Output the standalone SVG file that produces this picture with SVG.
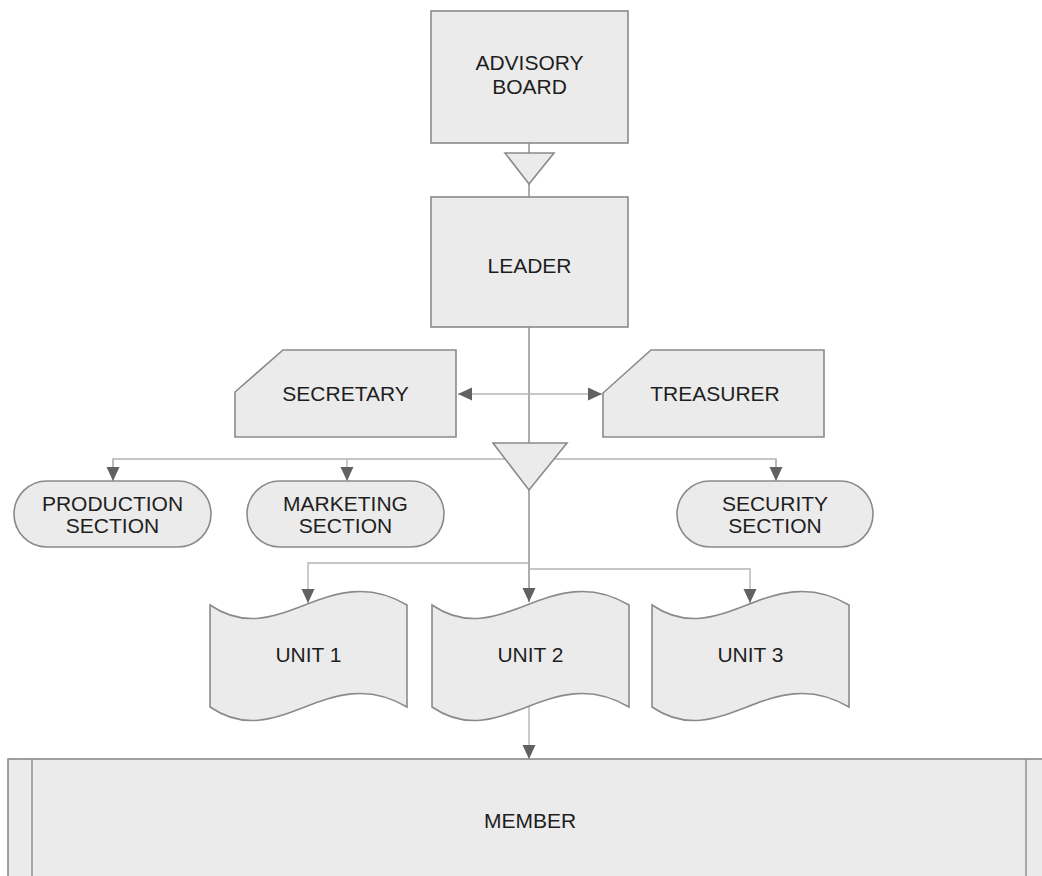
<svg xmlns="http://www.w3.org/2000/svg" width="1042" height="876" viewBox="0 0 1042 876">
<defs>
<style>
.n{fill:#ebebeb;stroke:#8a8a8a;stroke-width:1.6}
.t{font-family:"Liberation Sans",Arial,sans-serif;font-size:21px;fill:#1e1e1e;text-anchor:middle}
.c{fill:none;stroke:#8a8a8a;stroke-width:1.4}
.h{fill:none;stroke:#b4b4b4;stroke-width:1.4}
</style>
<marker id="ah" viewBox="0 0 14 14" refX="14" refY="7" markerWidth="14" markerHeight="14" markerUnits="userSpaceOnUse" orient="auto-start-reverse">
<path d="M0,0.5 L14,7 L0,13.5 Z" fill="#616161"/>
</marker>
</defs>
<rect width="1042" height="876" fill="#fff"/>
<g id="connectors">
<line class="c" x1="529" y1="143" x2="529" y2="153"/>
<line class="c" x1="529" y1="184" x2="529" y2="197"/>
<line class="c" x1="529" y1="327" x2="529" y2="443"/>
<line class="h" x1="458" y1="394" x2="602" y2="394" marker-start="url(#ah)" marker-end="url(#ah)"/>
<polyline class="h" points="113,481 113,459 776,459 776,481"/>
<line class="h" x1="113" y1="459" x2="113" y2="481" marker-end="url(#ah)"/>
<line class="h" x1="347" y1="459" x2="347" y2="481" marker-end="url(#ah)"/>
<line class="h" x1="776" y1="459" x2="776" y2="481" marker-end="url(#ah)"/>
<line class="c" x1="529" y1="490" x2="529" y2="602" marker-end="url(#ah)"/>
<polyline class="h" points="529,563 308,563 308,603" marker-end="url(#ah)"/>
<polyline class="h" points="529,569 750,569 750,603" marker-end="url(#ah)"/>
<line class="h" x1="529" y1="704" x2="529" y2="759" marker-end="url(#ah)"/>
</g>
<g id="advisory-board">
<rect class="n" x="431" y="11" width="197" height="132"/>
<text class="t" x="529.5" y="70">ADVISORY</text>
<text class="t" x="529.5" y="94">BOARD</text>
</g>
<g id="merge-1">
<polygon class="n" points="505,153 554,153 529,184"/>
</g>
<g id="leader">
<rect class="n" x="431" y="197" width="197" height="130"/>
<text class="t" x="529.5" y="273">LEADER</text>
</g>
<g id="secretary">
<polygon class="n" points="283,350 456,350 456,437 235,437 235,392"/>
<text class="t" x="345.5" y="401">SECRETARY</text>
</g>
<g id="treasurer">
<polygon class="n" points="651,350 824,350 824,437 603,437 603,393"/>
<text class="t" x="715" y="401">TREASURER</text>
</g>
<g id="merge-2">
<polygon class="n" points="493,443 567,443 529,490"/>
</g>
<g id="production-section">
<rect class="n" x="14" y="481" width="197" height="66" rx="33"/>
<text class="t" x="112.5" y="511">PRODUCTION</text>
<text class="t" x="112.5" y="533">SECTION</text>
</g>
<g id="marketing-section">
<rect class="n" x="247" y="481" width="197" height="66" rx="33"/>
<text class="t" x="345.5" y="511">MARKETING</text>
<text class="t" x="345.5" y="533">SECTION</text>
</g>
<g id="security-section">
<rect class="n" x="677" y="481" width="196" height="66" rx="33"/>
<text class="t" x="775" y="511">SECURITY</text>
<text class="t" x="775" y="533">SECTION</text>
</g>
<g id="unit-1">
<path class="n" d="M210,605 C279,652 328,558 407,605 L407,707 C328,660 279,754 210,707 Z"/>
<text class="t" x="308.5" y="662">UNIT 1</text>
</g>
<g id="unit-2">
<path class="n" d="M432,605 C501,652 550,558 629,605 L629,707 C550,660 501,754 432,707 Z"/>
<text class="t" x="530.5" y="662">UNIT 2</text>
</g>
<g id="unit-3">
<path class="n" d="M652,605 C721,652 770,558 849,605 L849,707 C770,660 721,754 652,707 Z"/>
<text class="t" x="750.5" y="662">UNIT 3</text>
</g>
<g id="member">
<rect class="n" x="8" y="759" width="1050" height="140"/>
<line class="c" x1="32" y1="759" x2="32" y2="876"/>
<line class="c" x1="1026" y1="759" x2="1026" y2="876"/>
<text class="t" x="530" y="828">MEMBER</text>
</g>
</svg>
